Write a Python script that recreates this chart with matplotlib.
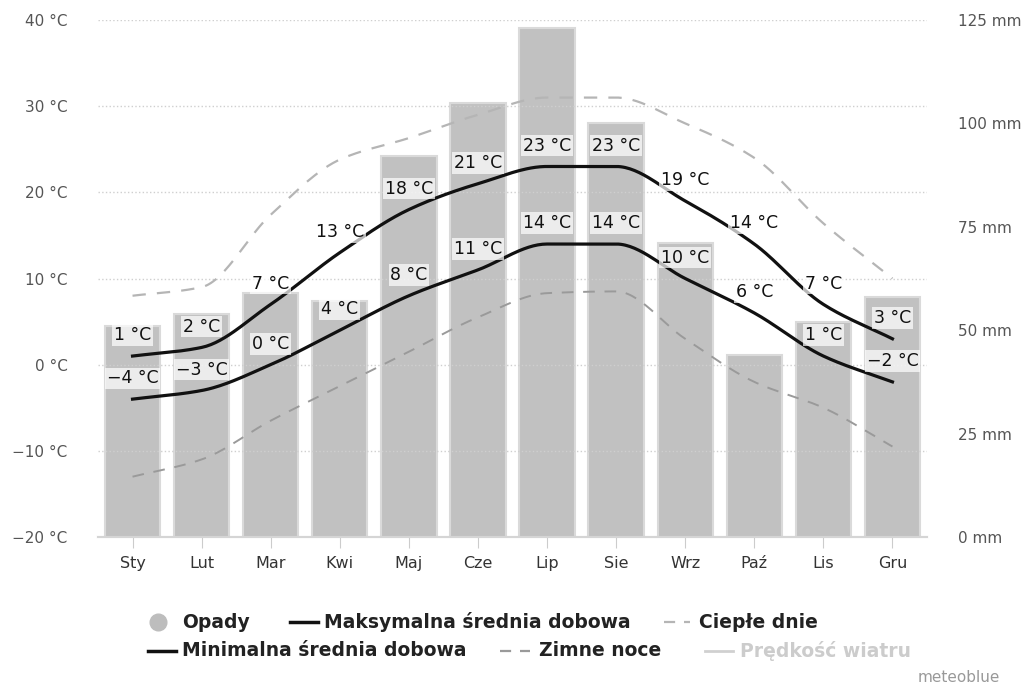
import numpy as np
import matplotlib
matplotlib.use("Agg")
import matplotlib.pyplot as plt
from matplotlib.lines import Line2D

months = ["Sty", "Lut", "Mar", "Kwi", "Maj", "Cze", "Lip", "Sie", "Wrz", "Paź", "Lis", "Gru"]
precip_mm = [51, 54, 59, 57, 92, 105, 123, 100, 71, 44, 52, 58]
t_max = [1, 2, 7, 13, 18, 21, 23, 23, 19, 14, 7, 3]
t_min = [-4, -3, 0, 4, 8, 11, 14, 14, 10, 6, 1, -2]
warm_days = [8, 9, 17.4, 23.8, 26.3, 29, 31, 31, 28, 24, 16.4, 10]
cold_nights = [-13, -11, -6.5, -2.5, 1.5, 5.5, 8.3, 8.5, 3, -2, -5, -9.5]

temp_ticks = [-20, -10, 0, 10, 20, 30, 40]
mm_ticks = [0, 25, 50, 75, 100, 125]

W, H = 1030, 689


def smooth(xs, ys, n=30):
    # monotone cubic (Fritsch-Carlson), only used to draw the curve shape
    xs = np.asarray(xs, float)
    ys = np.asarray(ys, float)
    h = np.diff(xs)
    d = np.diff(ys) / h
    m = np.zeros_like(ys)
    m[0], m[-1] = d[0], d[-1]
    for i in range(1, len(ys) - 1):
        if d[i - 1] * d[i] <= 0:
            m[i] = 0
        else:
            m[i] = 2 / (1 / d[i - 1] + 1 / d[i])
    X, Y = [], []
    for i in range(len(xs) - 1):
        t = np.linspace(0, 1, n, endpoint=False)
        h00 = 2 * t**3 - 3 * t**2 + 1
        h10 = t**3 - 2 * t**2 + t
        h01 = -2 * t**3 + 3 * t**2
        h11 = t**3 - t**2
        X.append(xs[i] + t * h[i])
        Y.append(h00 * ys[i] + h10 * h[i] * m[i] + h01 * ys[i + 1] + h11 * h[i] * m[i + 1])
    X.append([xs[-1]])
    Y.append([ys[-1]])
    return np.concatenate(X), np.concatenate(Y)


def deg(v):
    return f"{v} °C".replace("-", "\u2212")


fig = plt.figure(figsize=(W / 100, H / 100), dpi=100)
ax = fig.add_axes([98 / W, 1 - 537 / H, 829 / W, 517 / H])
ax2 = ax.twinx()
ax.set_zorder(ax2.get_zorder() + 1)
ax.patch.set_visible(False)

x = np.arange(len(months))

ax2.bar(x, precip_mm, width=0.8, color="#c1c1c1", edgecolor="#dadada", linewidth=1.5, zorder=1)
ax2.set_ylim(0, 125)
ax2.set_yticks(mm_ticks)
ax2.set_yticklabels([f"{v} mm" for v in mm_ticks])

xs, ys = smooth(x, warm_days)
ax.plot(xs, ys, color="#b5b5b5", lw=1.6, dashes=(6, 5), zorder=2)
xs, ys = smooth(x, cold_nights)
ax.plot(xs, ys, color="#9a9a9a", lw=1.4, dashes=(6, 5), zorder=2)
xs, ys = smooth(x, t_max)
ax.plot(xs, ys, color="#111111", lw=2.3, zorder=3)
xs, ys = smooth(x, t_min)
ax.plot(xs, ys, color="#111111", lw=2.3, zorder=3)

for series in (t_max, t_min):
    for xi, v in zip(x, series):
        ax.annotate(deg(v), (xi, v), xytext=(0, 15), textcoords="offset points",
                    ha="center", va="center", fontsize=12.5, color="#111111", zorder=5,
                    bbox=dict(boxstyle="square,pad=0.1", fc="white", ec="none", alpha=0.7))

ax.set_xlim(-0.5, 11.5)
ax.set_ylim(-20, 40)
ax.set_yticks(temp_ticks)
ax.set_yticklabels([deg(v) for v in temp_ticks])
ax.set_xticks(x)
ax.set_xticklabels(months)
ax.grid(axis="y", color="#cfcfcf", linestyle=":", linewidth=1)
ax.tick_params(axis="y", length=0, pad=22, labelsize=11, labelcolor="#555555")
ax2.tick_params(axis="y", length=0, pad=22, labelsize=11, labelcolor="#555555")
ax.tick_params(axis="x", length=8, color="#cccccc", labelsize=11.5, labelcolor="#333333", pad=6)
for a in (ax, ax2):
    for s in ("top", "left", "right"):
        a.spines[s].set_visible(False)
    a.spines["bottom"].set_color("#d5d5d5")
    a.spines["bottom"].set_linewidth(1.5)


def fx(px):
    return px / W


def fy(py):
    return 1 - py / H


lab = dict(fontsize=13.5, fontweight="bold", color="#222222", va="center", ha="left")
r1, r2 = 622, 651
fig.add_artist(Line2D([fx(158)], [fy(r1)], marker="o", markersize=12, color="#bdbdbd", lw=0))
fig.text(fx(182), fy(r1), "Opady", **lab)
fig.add_artist(Line2D([fx(290), fx(318)], [fy(r1), fy(r1)], color="#111111", lw=2.5))
fig.text(fx(324), fy(r1), "Maksymalna średnia dobowa", **lab)
fig.add_artist(Line2D([fx(664), fx(690)], [fy(r1), fy(r1)], color="#b5b5b5", lw=1.6, dashes=(5, 4)))
fig.text(fx(699), fy(r1), "Ciepłe dnie", **lab)

fig.add_artist(Line2D([fx(148), fx(176)], [fy(r2), fy(r2)], color="#111111", lw=2.5))
fig.text(fx(182), fy(r2), "Minimalna średnia dobowa", **lab)
fig.add_artist(Line2D([fx(500), fx(530)], [fy(r2), fy(r2)], color="#9a9a9a", lw=1.6, dashes=(5, 4)))
fig.text(fx(539), fy(r2), "Zimne noce", **lab)
fig.add_artist(Line2D([fx(705), fx(733)], [fy(r2), fy(r2)], color="#d0d0d0", lw=2))
fig.text(fx(740), fy(r2), "Prędkość wiatru", **{**lab, "color": "#cccccc"})

fig.text(fx(1000), fy(678), "meteoblue", fontsize=11, color="#999999", ha="right", va="center")

fig.savefig("out.png", dpi=100)
